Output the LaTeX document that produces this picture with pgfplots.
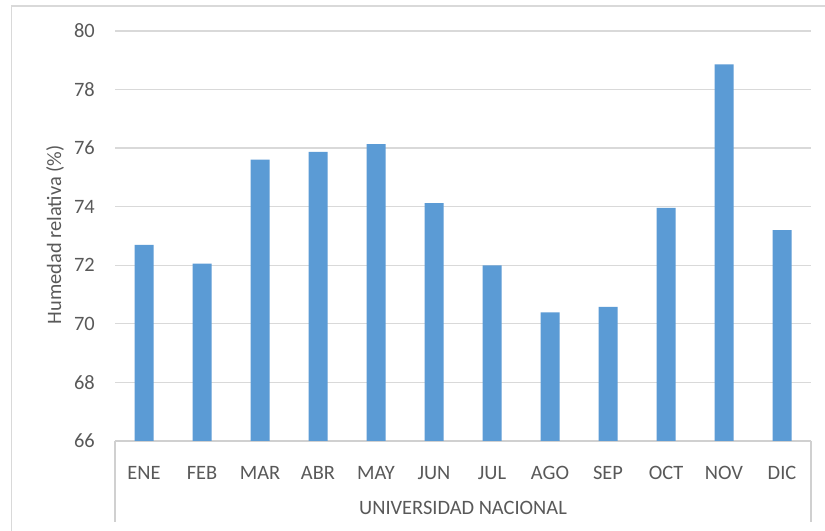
\documentclass[border=0pt]{standalone}
\usepackage{pgfplots}
\pgfplotsset{compat=1.18}
\usepackage{fontspec}
\setmainfont{Carlito}
\definecolor{barblue}{HTML}{5B9BD5}
\definecolor{gridgray}{HTML}{D9D9D9}
\definecolor{axisgray}{HTML}{D0D0D0}
\definecolor{framegray}{HTML}{D9D9D9}
\definecolor{textgray}{HTML}{595959}
\begin{document}
\begin{tikzpicture}[x=1bp,y=1bp]
\path[use as bounding box, fill=white] (0,0) rectangle (825,531);
\draw[framegray, line width=1.5bp] (11.5,0) -- (11.5,525) -- (825,525);
\begin{axis}[
  at={(115bp,90bp)}, anchor=south west,
  scale only axis, width=696bp, height=410bp,
  xmin=-0.5, xmax=11.5, ymin=66, ymax=80,
  ytick={66,68,...,80},
  xtick={0,...,11},
  xticklabels={ENE,FEB,MAR,ABR,MAY,JUN,JUL,AGO,SEP,OCT,NOV,DIC},
  ymajorgrids, grid style={gridgray, line width=1.3bp},
  axis x line*=bottom, axis y line*=left,
  y axis line style={draw=none},
  x axis line style={draw=axisgray, line width=1.3bp},
  tick style={draw=none},
  /pgf/number format/assume math mode=true,
  ticklabel style={font=\fontsize{20.5}{24}\selectfont, text=textgray, inner sep=0pt},
  xticklabel style={anchor=center, yshift=-28bp},
  yticklabel style={anchor=east, xshift=-20bp},
  ybar, bar width=19bp,
]
\addplot[fill=barblue, draw=none] coordinates {
  (0,72.70) (1,72.06) (2,75.61) (3,75.87) (4,76.14) (5,74.12)
  (6,72.00) (7,70.39) (8,70.58) (9,73.96) (10,78.86) (11,73.20)
};
\end{axis}
\draw[axisgray, line width=1.3bp] (115,90) -- (115,9);
\draw[axisgray, line width=1.3bp] (811,90) -- (811,9);
\node[font=\fontsize{20.5}{24}\selectfont, text=textgray] at (463,23) {UNIVERSIDAD NACIONAL};
\node[rotate=90, font=\fontsize{20.5}{24}\selectfont, text=textgray] at (55,296) {Humedad relativa (\%)};
\end{tikzpicture}
\end{document}
